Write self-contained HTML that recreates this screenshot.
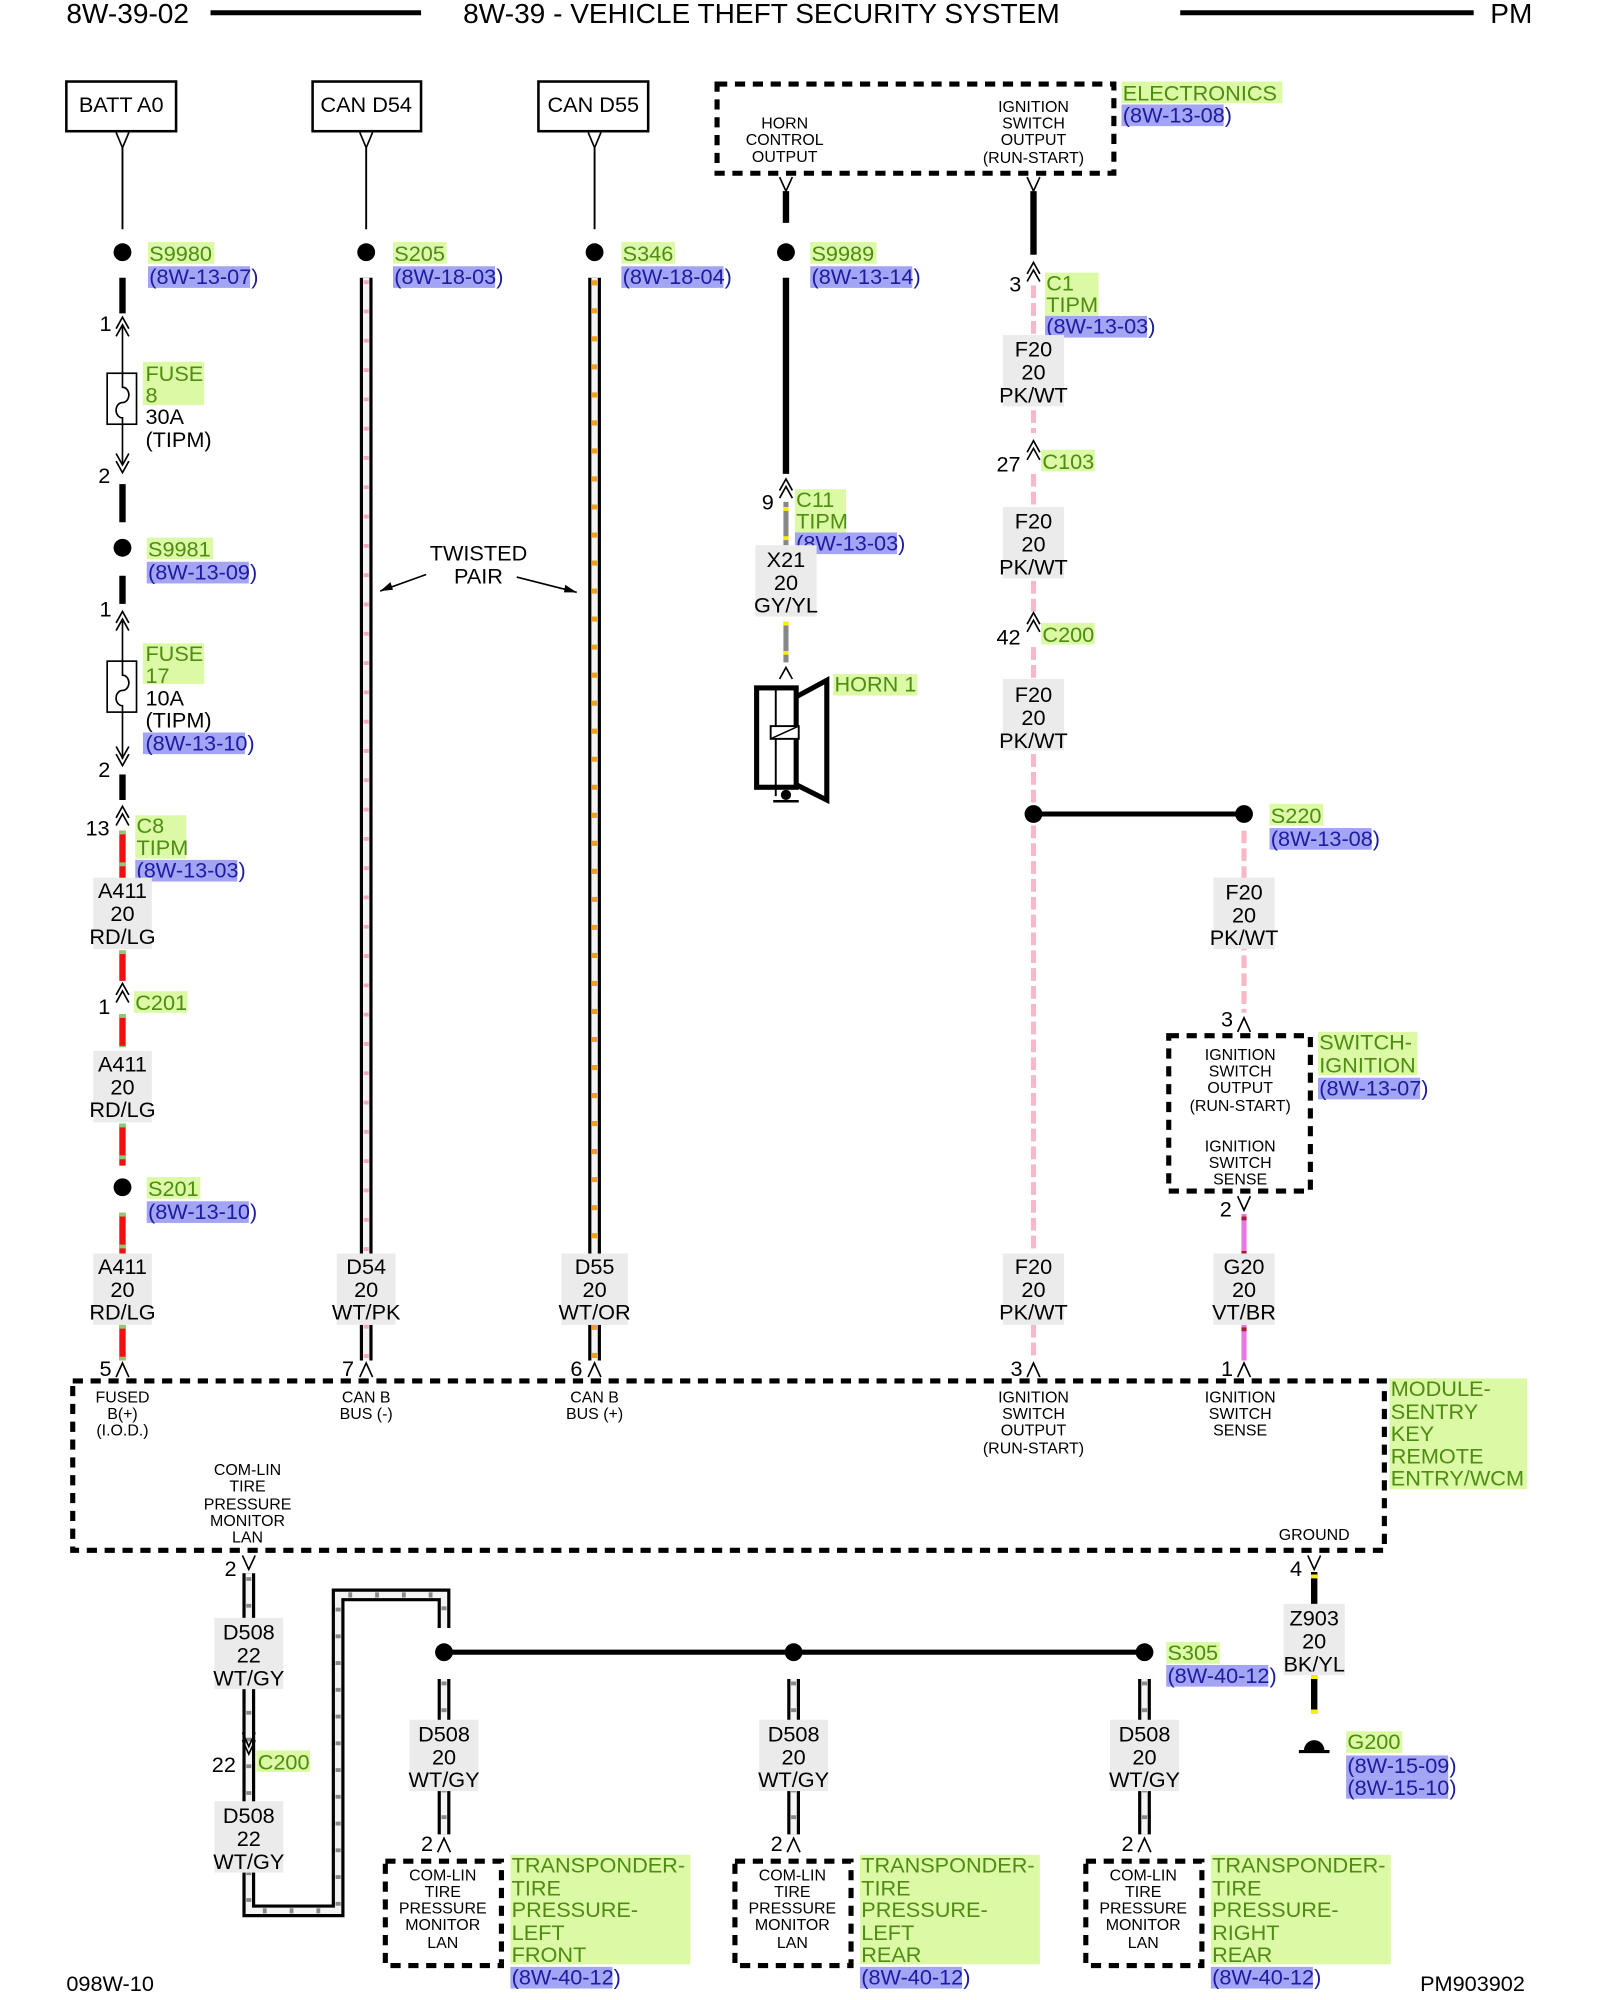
<!DOCTYPE html>
<html><head><meta charset="utf-8">
<style>
html,body{margin:0;padding:0;background:#fff;}
svg{display:block;}
text{font-family:"Liberation Sans",Arial,sans-serif;font-size:17px;fill:#000;}
.s{font-size:12.5px;}
.h{font-size:22px;}
.g{fill:#4e8c12;}
.b{fill:#1c1ca0;}
.m{text-anchor:middle;}
.gb{fill:#dcfaa6;}
.bb{fill:#a4a4f4;}
.lb{fill:#ebebeb;}
.ch{fill:none;stroke:#000;stroke-width:1.3;}
.db{fill:none;stroke:#000;stroke-width:4;stroke-dasharray:8 6;}
</style></head>
<body>
<svg width="1600" height="2000" viewBox="0 0 1254 1570" preserveAspectRatio="none" xmlns="http://www.w3.org/2000/svg">
<!-- header -->
<text x="52" y="18" class="h">8W-39-02</text>
<line x1="165" y1="10" x2="330" y2="10" stroke="#000" stroke-width="4"/>
<text x="363" y="18" class="h">8W-39 - VEHICLE THEFT SECURITY SYSTEM</text>
<line x1="925" y1="10" x2="1155" y2="10" stroke="#000" stroke-width="4"/>
<text x="1168" y="18" class="h">PM</text>

<!-- top boxes -->
<rect x="52" y="64" width="86" height="39" fill="none" stroke="#000" stroke-width="2"/>
<text x="95" y="88" class="m">BATT A0</text>
<rect x="245" y="64" width="85" height="39" fill="none" stroke="#000" stroke-width="2"/>
<text x="287" y="88" class="m">CAN D54</text>
<rect x="422" y="64" width="86" height="39" fill="none" stroke="#000" stroke-width="2"/>
<text x="465" y="88" class="m">CAN D55</text>
<path class="ch" d="M91,104 L96,116 L101,104 M282,104 L287,116 L292,104 M461,104 L466,116 L471,104"/>
<path d="M96,116V180 M287,116V180 M466,116V180" stroke="#000" stroke-width="1.5"/>

<!-- splice dots row -->
<circle cx="96" cy="198" r="7"/><circle cx="287" cy="198" r="7"/><circle cx="466" cy="198" r="7"/><circle cx="616" cy="198" r="7"/>
<rect x="116" y="190" width="52" height="17" class="gb"/><text x="117" y="205" class="g">S9980</text>
<rect x="116" y="209" width="80" height="17" class="bb"/><text x="117" y="223" class="b">(8W-13-07)</text>
<rect x="308" y="190" width="42" height="17" class="gb"/><text x="309" y="205" class="g">S205</text>
<rect x="308" y="209" width="80" height="17" class="bb"/><text x="309" y="223" class="b">(8W-18-03)</text>
<rect x="487" y="190" width="42" height="17" class="gb"/><text x="488" y="205" class="g">S346</text>
<rect x="487" y="209" width="80" height="17" class="bb"/><text x="488" y="223" class="b">(8W-18-04)</text>
<rect x="635" y="190" width="52" height="17" class="gb"/><text x="636" y="205" class="g">S9989</text>
<rect x="635" y="209" width="80" height="17" class="bb"/><text x="636" y="223" class="b">(8W-13-14)</text>

<!-- LEFT COLUMN x=96 -->
<path d="M96,218V246 M96,380V410 M96,452V474 M96,608V628" stroke="#000" stroke-width="5"/>
<text x="78" y="260">1</text>
<path class="ch" d="M91,258 L96,249 L101,258 M91,264 L96,255 L101,264"/>
<path d="M96,256V365" stroke="#000" stroke-width="1.3"/>
<rect x="84" y="293" width="23" height="40" fill="#fff" stroke="#000" stroke-width="1.3"/>
<path d="M96,293 V304 a5,6 0 0 1 0,12 a5,6 0 0 0 0,12 V333" fill="none" stroke="#000" stroke-width="1.3"/>
<path class="ch" d="M91,356 L96,365 L101,356 M91,362 L96,371 L101,362"/>
<text x="77" y="379">2</text>
<rect x="112" y="284" width="48" height="34" class="gb"/>
<text x="114" y="299" class="g">FUSE</text><text x="114" y="316" class="g">8</text>
<text x="114" y="333">30A</text><text x="114" y="351">(TIPM)</text>

<circle cx="96" cy="430" r="7"/>
<rect x="115" y="422" width="52" height="17" class="gb"/><text x="116" y="437" class="g">S9981</text>
<rect x="115" y="441" width="80" height="17" class="bb"/><text x="116" y="455" class="b">(8W-13-09)</text>
<text x="78" y="484">1</text>
<path class="ch" d="M91,489 L96,480 L101,489 M91,495 L96,486 L101,495"/>
<path d="M96,486V596" stroke="#000" stroke-width="1.3"/>
<rect x="84" y="519" width="23" height="40" fill="#fff" stroke="#000" stroke-width="1.3"/>
<path d="M96,519 V530 a5,6 0 0 1 0,12 a5,6 0 0 0 0,12 V559" fill="none" stroke="#000" stroke-width="1.3"/>
<path class="ch" d="M91,586 L96,595 L101,586 M91,592 L96,601 L101,592"/>
<text x="77" y="610">2</text>
<rect x="112" y="505" width="48" height="32" class="gb"/>
<text x="114" y="519" class="g">FUSE</text><text x="114" y="536" class="g">17</text>
<text x="114" y="554">10A</text><text x="114" y="571">(TIPM)</text>
<rect x="112" y="575" width="80" height="17" class="bb"/><text x="114" y="589" class="b">(8W-13-10)</text>

<path class="ch" d="M91,642 L96,633 L101,642 M91,648 L96,639 L101,648"/>
<text x="67" y="656">13</text>
<rect x="106" y="640" width="40" height="34" class="gb"/>
<text x="107" y="654" class="g">C8</text><text x="107" y="671" class="g">TIPM</text>
<rect x="106" y="675" width="80" height="17" class="bb"/><text x="107" y="689" class="b">(8W-13-03)</text>

<!-- red wire -->
<g stroke-width="5">
<path d="M96,652V690 M96,746V770 M96,796V822 M96,882V915 M96,952V985 M96,1040V1068" stroke="#ee1111"/>
<path d="M96,652V690 M96,746V770 M96,796V822 M96,882V915 M96,952V985 M96,1040V1068" stroke="#88cc77" stroke-dasharray="3 22"/>
</g>
<rect x="73" y="689" width="46" height="56" class="lb"/>
<text x="96" y="705" class="m">A411</text><text x="96" y="723" class="m">20</text><text x="96" y="741" class="m">RD/LG</text>
<path class="ch" d="M91,781 L96,772 L101,781 M91,787 L96,778 L101,787"/>
<text x="77" y="796">1</text>
<rect x="105" y="778" width="42" height="17" class="gb"/><text x="106" y="793" class="g">C201</text>
<rect x="73" y="825" width="46" height="56" class="lb"/>
<text x="96" y="841" class="m">A411</text><text x="96" y="859" class="m">20</text><text x="96" y="877" class="m">RD/LG</text>
<circle cx="96" cy="932" r="7"/>
<rect x="115" y="924" width="42" height="17" class="gb"/><text x="116" y="939" class="g">S201</text>
<rect x="115" y="943" width="80" height="17" class="bb"/><text x="116" y="957" class="b">(8W-13-10)</text>
<rect x="73" y="984" width="46" height="56" class="lb"/>
<text x="96" y="1000" class="m">A411</text><text x="96" y="1018" class="m">20</text><text x="96" y="1036" class="m">RD/LG</text>
<text x="78" y="1080">5</text>
<path class="ch" d="M91,1081 L96,1070 L101,1081"/>

<!-- CAN D54 / D55 twisted pairs -->
<g fill="none">
<path d="M287,218V985 M287,1040V1068 M466,218V985 M466,1040V1068" stroke="#000" stroke-width="10"/>
<path d="M287,218V985 M287,1040V1068 M466,218V985 M466,1040V1068" stroke="#f4f4f4" stroke-width="5"/>
<path d="M287,220V985 M287,1040V1068" stroke="#f4a8be" stroke-width="4" stroke-dasharray="3 20"/>
<path d="M466,220V985 M466,1040V1068" stroke="#f0a020" stroke-width="4" stroke-dasharray="4 18"/>
</g>
<rect x="264" y="984" width="46" height="56" class="lb"/>
<text x="287" y="1000" class="m">D54</text><text x="287" y="1018" class="m">20</text><text x="287" y="1036" class="m">WT/PK</text>
<rect x="440" y="984" width="52" height="56" class="lb"/>
<text x="466" y="1000" class="m">D55</text><text x="466" y="1018" class="m">20</text><text x="466" y="1036" class="m">WT/OR</text>
<text x="268" y="1080">7</text><path class="ch" d="M282,1081 L287,1070 L292,1081"/>
<text x="447" y="1080">6</text><path class="ch" d="M461,1081 L466,1070 L471,1081"/>
<text x="375" y="440" class="m">TWISTED</text><text x="375" y="458" class="m">PAIR</text>
<path d="M334,451 L298,464 M405,453 L452,465" stroke="#000" stroke-width="1.3"/>
<path d="M298,464 l8,-7 l2,6z M452,465 l-9,-6 l-1,6z" fill="#000"/>

<!-- ELECTRONICS box -->
<rect x="562" y="66" width="311" height="70" class="db"/>
<text x="615" y="101" class="s m">HORN</text><text x="615" y="114" class="s m">CONTROL</text><text x="615" y="127" class="s m">OUTPUT</text>
<text x="810" y="88" class="s m">IGNITION</text><text x="810" y="101" class="s m">SWITCH</text><text x="810" y="114" class="s m">OUTPUT</text><text x="810" y="128" class="s m">(RUN-START)</text>
<rect x="879" y="64" width="126" height="17" class="gb"/><text x="880" y="79" class="g">ELECTRONICS</text>
<rect x="879" y="82" width="80" height="17" class="bb"/><text x="880" y="96" class="b">(8W-13-08)</text>
<path class="ch" d="M611,139 L616,150 L621,139 M805,139 L810,150 L815,139"/>

<!-- horn column -->
<path d="M616,150V175 M616,218V372" stroke="#000" stroke-width="5"/>
<path class="ch" d="M611,385 L616,376 L621,385 M611,391 L616,382 L621,391"/>
<text x="597" y="400">9</text>
<rect x="623" y="384" width="40" height="34" class="gb"/>
<text x="624" y="398" class="g">C11</text><text x="624" y="415" class="g">TIPM</text>
<rect x="623" y="418" width="80" height="17" class="bb"/><text x="624" y="432" class="b">(8W-13-03)</text>
<path d="M616,394V428 M616,488V520" stroke="#888" stroke-width="4"/>
<path d="M616,398V428 M616,488V520" stroke="#ffee00" stroke-width="4" stroke-dasharray="3 20"/>
<rect x="592" y="428" width="48" height="56" class="lb"/>
<text x="616" y="445" class="m">X21</text><text x="616" y="463" class="m">20</text><text x="616" y="481" class="m">GY/YL</text>
<path class="ch" d="M611,533 L616,524 L621,533"/>
<rect x="593" y="540" width="31" height="78" fill="none" stroke="#000" stroke-width="4"/>
<path d="M624,547 L648,534 L648,628 L624,616" fill="none" stroke="#000" stroke-width="4"/>
<path d="M608,540V625" stroke="#000" stroke-width="1.5"/>
<rect x="604" y="570" width="22" height="10" fill="#fff" stroke="#000" stroke-width="1.5"/>
<path d="M604,580 L626,570" stroke="#000" stroke-width="1.2"/>
<circle cx="616" cy="624" r="4"/><path d="M606,629H626" stroke="#000" stroke-width="2"/>
<rect x="653" y="529" width="66" height="17" class="gb"/><text x="654" y="543" class="g">HORN 1</text>

<!-- ignition column x=810 -->
<path d="M810,150V200" stroke="#000" stroke-width="5"/>
<path class="ch" d="M805,215 L810,206 L815,215 M805,221 L810,212 L815,221"/>
<text x="791" y="229">3</text>
<rect x="819" y="214" width="42" height="34" class="gb"/>
<text x="820" y="228" class="g">C1</text><text x="820" y="245" class="g">TIPM</text>
<rect x="819" y="248" width="80" height="17" class="bb"/><text x="820" y="262" class="b">(8W-13-03)</text>
<path d="M810,224V340 M810,372V480 M810,508V1068" stroke="#f8b8c8" stroke-width="4" stroke-dasharray="10 4"/>
<rect x="786" y="263" width="48" height="56" class="lb"/>
<text x="810" y="280" class="m">F20</text><text x="810" y="298" class="m">20</text><text x="810" y="316" class="m">PK/WT</text>
<path class="ch" d="M805,355 L810,346 L815,355 M805,361 L810,352 L815,361"/>
<text x="781" y="370">27</text>
<rect x="816" y="353" width="42" height="17" class="gb"/><text x="817" y="368" class="g">C103</text>
<rect x="786" y="398" width="48" height="56" class="lb"/>
<text x="810" y="415" class="m">F20</text><text x="810" y="433" class="m">20</text><text x="810" y="451" class="m">PK/WT</text>
<path class="ch" d="M805,490 L810,481 L815,490 M805,496 L810,487 L815,496"/>
<text x="781" y="506">42</text>
<rect x="816" y="489" width="42" height="17" class="gb"/><text x="817" y="504" class="g">C200</text>
<rect x="786" y="533" width="48" height="56" class="lb"/>
<text x="810" y="551" class="m">F20</text><text x="810" y="569" class="m">20</text><text x="810" y="587" class="m">PK/WT</text>
<path d="M810,639H975" stroke="#000" stroke-width="4"/>
<circle cx="810" cy="639" r="7"/><circle cx="975" cy="639" r="7"/>
<rect x="995" y="631" width="42" height="17" class="gb"/><text x="996" y="646" class="g">S220</text>
<rect x="995" y="650" width="80" height="17" class="bb"/><text x="996" y="664" class="b">(8W-13-08)</text>
<path d="M975,652V795" stroke="#f8b8c8" stroke-width="4" stroke-dasharray="10 4"/>
<rect x="951" y="689" width="48" height="56" class="lb"/>
<text x="975" y="706" class="m">F20</text><text x="975" y="724" class="m">20</text><text x="975" y="742" class="m">PK/WT</text>
<text x="957" y="806">3</text><path class="ch" d="M970,810 L975,799 L980,810"/>
<rect x="916" y="813" width="111" height="122" class="db"/>
<text x="972" y="832" class="s m">IGNITION</text><text x="972" y="845" class="s m">SWITCH</text><text x="972" y="858" class="s m">OUTPUT</text><text x="972" y="872" class="s m">(RUN-START)</text>
<text x="972" y="904" class="s m">IGNITION</text><text x="972" y="917" class="s m">SWITCH</text><text x="972" y="930" class="s m">SENSE</text>
<rect x="1033" y="810" width="78" height="34" class="gb"/>
<text x="1034" y="824" class="g">SWITCH-</text><text x="1034" y="842" class="g">IGNITION</text>
<rect x="1033" y="846" width="80" height="17" class="bb"/><text x="1034" y="860" class="b">(8W-13-07)</text>
<text x="956" y="955">2</text><path class="ch" d="M970,939 L975,950 L980,939"/>
<path d="M975,953V985 M975,1040V1068" stroke="#e878e0" stroke-width="4"/>
<path d="M975,955V985 M975,1042V1068" stroke="#a02030" stroke-width="4" stroke-dasharray="3 24"/>
<rect x="786" y="984" width="48" height="56" class="lb"/>
<text x="810" y="1000" class="m">F20</text><text x="810" y="1018" class="m">20</text><text x="810" y="1036" class="m">PK/WT</text>
<rect x="951" y="984" width="48" height="56" class="lb"/>
<text x="975" y="1000" class="m">G20</text><text x="975" y="1018" class="m">20</text><text x="975" y="1036" class="m">VT/BR</text>
<text x="792" y="1080">3</text><path class="ch" d="M805,1081 L810,1070 L815,1081"/>
<text x="957" y="1080">1</text><path class="ch" d="M970,1081 L975,1070 L980,1081"/>

<!-- module box -->
<rect x="57" y="1084" width="1028" height="133" class="db"/>
<text x="96" y="1101" class="s m">FUSED</text><text x="96" y="1114" class="s m">B(+)</text><text x="96" y="1127" class="s m">(I.O.D.)</text>
<text x="287" y="1101" class="s m">CAN B</text><text x="287" y="1114" class="s m">BUS (-)</text>
<text x="466" y="1101" class="s m">CAN B</text><text x="466" y="1114" class="s m">BUS (+)</text>
<text x="810" y="1101" class="s m">IGNITION</text><text x="810" y="1114" class="s m">SWITCH</text><text x="810" y="1127" class="s m">OUTPUT</text><text x="810" y="1141" class="s m">(RUN-START)</text>
<text x="972" y="1101" class="s m">IGNITION</text><text x="972" y="1114" class="s m">SWITCH</text><text x="972" y="1127" class="s m">SENSE</text>
<text x="194" y="1158" class="s m">COM-LIN</text><text x="194" y="1171" class="s m">TIRE</text><text x="194" y="1185" class="s m">PRESSURE</text><text x="194" y="1198" class="s m">MONITOR</text><text x="194" y="1211" class="s m">LAN</text>
<text x="1030" y="1209" class="s m">GROUND</text>
<rect x="1089" y="1082" width="108" height="87" class="gb"/>
<text x="1090" y="1096" class="g">MODULE-</text><text x="1090" y="1114" class="g">SENTRY</text><text x="1090" y="1131" class="g">KEY</text><text x="1090" y="1149" class="g">REMOTE</text><text x="1090" y="1166" class="g">ENTRY/WCM</text>

<!-- D508 -->
<text x="176" y="1237">2</text><path class="ch" d="M190,1221 L195,1232 L200,1221"/>
<g fill="none">
<path d="M195,1235V1500H265V1252H348V1278 M195,1235V1500" stroke="#000" stroke-width="10"/>
<path d="M195,1235V1500H265V1252H348V1278" stroke="#f4f4f4" stroke-width="5"/>
<path d="M195,1238V1500H265V1252H348V1278" stroke="#888" stroke-width="4" stroke-dasharray="3 18"/>
<path d="M348,1318V1440 M622,1318V1440 M897,1318V1440" stroke="#000" stroke-width="10"/>
<path d="M348,1318V1440 M622,1318V1440 M897,1318V1440" stroke="#f4f4f4" stroke-width="5"/>
<path d="M348,1320V1440 M622,1320V1440 M897,1320V1440" stroke="#888" stroke-width="4" stroke-dasharray="3 18"/>
</g>
<rect x="168" y="1270" width="54" height="56" class="lb"/>
<text x="195" y="1287" class="m">D508</text><text x="195" y="1305" class="m">22</text><text x="195" y="1323" class="m">WT/GY</text>
<path class="ch" d="M190,1360 L195,1371 L200,1360 M190,1366 L195,1377 L200,1366"/>
<text x="166" y="1391">22</text>
<rect x="201" y="1374" width="42" height="17" class="gb"/><text x="202" y="1389" class="g">C200</text>
<rect x="168" y="1414" width="54" height="56" class="lb"/>
<text x="195" y="1431" class="m">D508</text><text x="195" y="1449" class="m">22</text><text x="195" y="1467" class="m">WT/GY</text>
<path d="M348,1297H897" stroke="#000" stroke-width="4"/>
<circle cx="348" cy="1297" r="7"/><circle cx="622" cy="1297" r="7"/><circle cx="897" cy="1297" r="7"/>
<rect x="914" y="1289" width="42" height="17" class="gb"/><text x="915" y="1303" class="g">S305</text>
<rect x="914" y="1307" width="80" height="17" class="bb"/><text x="915" y="1321" class="b">(8W-40-12)</text>

<g>
<rect x="321" y="1350" width="54" height="56" class="lb"/>
<text x="348" y="1367" class="m">D508</text><text x="348" y="1385" class="m">20</text><text x="348" y="1403" class="m">WT/GY</text>
<text x="330" y="1453">2</text><path class="ch" d="M343,1454 L348,1443 L353,1454"/>
<rect x="302" y="1461" width="91" height="82" class="db"/>
<text x="347" y="1476" class="s m">COM-LIN</text><text x="347" y="1489" class="s m">TIRE</text><text x="347" y="1502" class="s m">PRESSURE</text><text x="347" y="1515" class="s m">MONITOR</text><text x="347" y="1529" class="s m">LAN</text>
<rect x="400" y="1456" width="141" height="86" class="gb"/>
<text x="401" y="1470" class="g">TRANSPONDER-</text><text x="401" y="1488" class="g">TIRE</text><text x="401" y="1505" class="g">PRESSURE-</text><text x="401" y="1523" class="g">LEFT</text><text x="401" y="1540" class="g">FRONT</text>
<rect x="400" y="1544" width="80" height="17" class="bb"/><text x="401" y="1558" class="b">(8W-40-12)</text>
</g>
<g>
<rect x="595" y="1350" width="54" height="56" class="lb"/>
<text x="622" y="1367" class="m">D508</text><text x="622" y="1385" class="m">20</text><text x="622" y="1403" class="m">WT/GY</text>
<text x="604" y="1453">2</text><path class="ch" d="M617,1454 L622,1443 L627,1454"/>
<rect x="576" y="1461" width="91" height="82" class="db"/>
<text x="621" y="1476" class="s m">COM-LIN</text><text x="621" y="1489" class="s m">TIRE</text><text x="621" y="1502" class="s m">PRESSURE</text><text x="621" y="1515" class="s m">MONITOR</text><text x="621" y="1529" class="s m">LAN</text>
<rect x="674" y="1456" width="141" height="86" class="gb"/>
<text x="675" y="1470" class="g">TRANSPONDER-</text><text x="675" y="1488" class="g">TIRE</text><text x="675" y="1505" class="g">PRESSURE-</text><text x="675" y="1523" class="g">LEFT</text><text x="675" y="1540" class="g">REAR</text>
<rect x="674" y="1544" width="80" height="17" class="bb"/><text x="675" y="1558" class="b">(8W-40-12)</text>
</g>
<g>
<rect x="870" y="1350" width="54" height="56" class="lb"/>
<text x="897" y="1367" class="m">D508</text><text x="897" y="1385" class="m">20</text><text x="897" y="1403" class="m">WT/GY</text>
<text x="879" y="1453">2</text><path class="ch" d="M892,1454 L897,1443 L902,1454"/>
<rect x="851" y="1461" width="91" height="82" class="db"/>
<text x="896" y="1476" class="s m">COM-LIN</text><text x="896" y="1489" class="s m">TIRE</text><text x="896" y="1502" class="s m">PRESSURE</text><text x="896" y="1515" class="s m">MONITOR</text><text x="896" y="1529" class="s m">LAN</text>
<rect x="949" y="1456" width="141" height="86" class="gb"/>
<text x="950" y="1470" class="g">TRANSPONDER-</text><text x="950" y="1488" class="g">TIRE</text><text x="950" y="1505" class="g">PRESSURE-</text><text x="950" y="1523" class="g">RIGHT</text><text x="950" y="1540" class="g">REAR</text>
<rect x="949" y="1544" width="80" height="17" class="bb"/><text x="950" y="1558" class="b">(8W-40-12)</text>
</g>

<!-- ground -->
<text x="1011" y="1237">4</text><path class="ch" d="M1025,1221 L1030,1232 L1035,1221"/>
<path d="M1030,1234V1260 M1030,1315V1345" stroke="#000" stroke-width="5"/>
<path d="M1030,1236V1260 M1030,1315V1345" stroke="#ffee00" stroke-width="5" stroke-dasharray="3 24"/>
<rect x="1006" y="1259" width="48" height="56" class="lb"/>
<text x="1030" y="1276" class="m">Z903</text><text x="1030" y="1294" class="m">20</text><text x="1030" y="1312" class="m">BK/YL</text>
<path d="M1022,1374 a8,8 0 0 1 16,0z" fill="#000"/>
<path d="M1018,1375H1042" stroke="#000" stroke-width="2.5"/>
<rect x="1055" y="1359" width="44" height="17" class="gb"/><text x="1056" y="1373" class="g">G200</text>
<rect x="1055" y="1378" width="80" height="17" class="bb"/><text x="1056" y="1392" class="b">(8W-15-09)</text>
<rect x="1055" y="1395" width="80" height="17" class="bb"/><text x="1056" y="1409" class="b">(8W-15-10)</text>

<!-- footer -->
<text x="52" y="1563">098W-10</text>
<text x="1113" y="1563">PM903902</text>
</svg>
</body></html>
